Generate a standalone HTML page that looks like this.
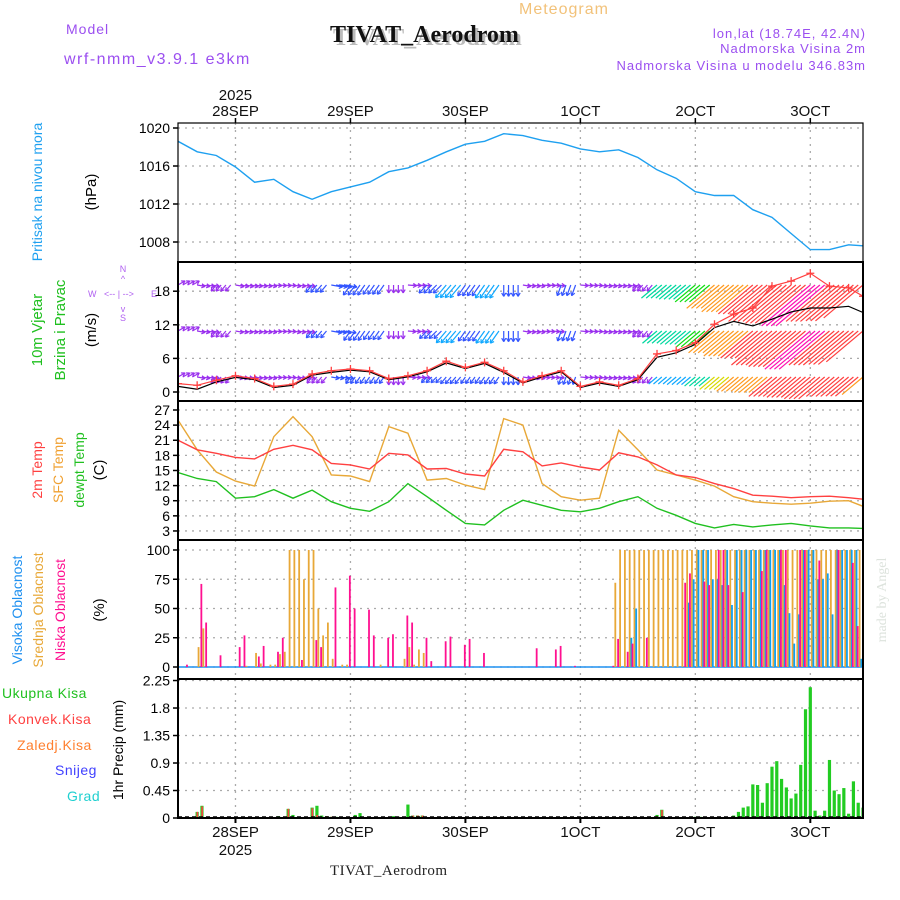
<!DOCTYPE html>
<html><head><meta charset="utf-8">
<style>
html,body{margin:0;padding:0;background:#fff;}
svg{display:block;font-family:"Liberation Sans",sans-serif;}
</style></head>
<body>
<svg id="chart" width="900" height="900" viewBox="0 0 900 900" xmlns="http://www.w3.org/2000/svg">
<defs>
<clipPath id="cpP"><rect x="178" y="123" width="685" height="139"/></clipPath>
<clipPath id="cpW"><rect x="178" y="262" width="685" height="139"/></clipPath>
<clipPath id="cpT"><rect x="178" y="401" width="685" height="139"/></clipPath>
<clipPath id="cpC"><rect x="178" y="540" width="685" height="139"/></clipPath>
<clipPath id="cpR"><rect x="178" y="679" width="685" height="139"/></clipPath>
</defs>
<rect width="900" height="900" fill="#fff"/>
<text x="519" y="14" font-size="16" fill="#f2c27a" letter-spacing="1">Meteogram</text>
<text x="66" y="34" font-size="14" fill="#9b4ff0" letter-spacing="1">Model</text>
<text x="64" y="64" font-size="16" fill="#9b4ff0" letter-spacing="1.5">wrf-nmm_v3.9.1 e3km</text>
<text x="333" y="45" font-family="Liberation Serif,serif" font-weight="bold" font-size="24" fill="#bbb">TIVAT_Aerodrom</text>
<text x="330" y="42" font-family="Liberation Serif,serif" font-weight="bold" font-size="24" fill="#111">TIVAT_Aerodrom</text>
<text x="866" y="38" font-size="13" fill="#9b4ff0" text-anchor="end" letter-spacing="1">lon,lat (18.74E, 42.4N)</text>
<text x="866" y="53" font-size="13" fill="#9b4ff0" text-anchor="end" letter-spacing="1">Nadmorska Visina 2m</text>
<text x="866" y="70" font-size="13" fill="#9b4ff0" text-anchor="end" letter-spacing="1">Nadmorska Visina u modelu 346.83m</text>
<text transform="translate(42,192) rotate(-90)" font-size="14" fill="#1ea0f0" text-anchor="middle">Pritisak na nivou mora</text>
<text transform="translate(96,192) rotate(-90)" font-size="15" fill="#000" text-anchor="middle">(hPa)</text>
<text transform="translate(42,330) rotate(-90)" font-size="15" fill="#20c020" text-anchor="middle">10m Vjetar</text>
<text transform="translate(65,330) rotate(-90)" font-size="15" fill="#20c020" text-anchor="middle">Brzina i Pravac</text>
<text transform="translate(96,330) rotate(-90)" font-size="15" fill="#000" text-anchor="middle">(m/s)</text>
<g fill="#b060f0" font-size="9">
<text x="123" y="272" text-anchor="middle">N</text>
<text x="123" y="282" text-anchor="middle">^</text>
<text x="88" y="297">W</text>
<text x="104" y="297">&lt;-- | --&gt;</text>
<text x="151" y="297">E</text>
<text x="123" y="312" text-anchor="middle">v</text>
<text x="123" y="321" text-anchor="middle">S</text>
</g>
<text transform="translate(42,470) rotate(-90)" font-size="14" fill="#ff4040" text-anchor="middle">2m Temp</text>
<text transform="translate(63,470) rotate(-90)" font-size="14" fill="#f0a030" text-anchor="middle">SFC Temp</text>
<text transform="translate(84,470) rotate(-90)" font-size="14" fill="#20c020" text-anchor="middle">dewpt Temp</text>
<text transform="translate(104,470) rotate(-90)" font-size="15" fill="#000" text-anchor="middle">(C)</text>
<text transform="translate(22,610) rotate(-90)" font-size="14" fill="#1e90f0" text-anchor="middle">Visoka Oblacnost</text>
<text transform="translate(43,610) rotate(-90)" font-size="14" fill="#e8a838" text-anchor="middle">Srednja Oblacnost</text>
<text transform="translate(65,610) rotate(-90)" font-size="14" fill="#ff1090" text-anchor="middle">Niska Oblacnost</text>
<text transform="translate(104,610) rotate(-90)" font-size="15" fill="#000" text-anchor="middle">(%)</text>
<g font-size="14" letter-spacing="0.5">
<text x="2" y="698" fill="#20c020">Ukupna Kisa</text>
<text x="8" y="724" fill="#ff4040">Konvek.Kisa</text>
<text x="17" y="750" fill="#ff8030">Zaledj.Kisa</text>
<text x="55" y="775" fill="#4040ff">Snijeg</text>
<text x="67" y="801" fill="#20d0d0">Grad</text>
</g>
<text transform="translate(123,750) rotate(-90)" font-size="14" fill="#000" text-anchor="middle">1hr Precip (mm)</text>
<text transform="translate(886,600) rotate(-90)" font-size="14" font-family="Liberation Serif,serif" fill="#dde3dd" text-anchor="middle">made by Angel</text>
<text x="330" y="875" font-family="Liberation Serif,serif" font-size="15" fill="#222" letter-spacing="0.5">TIVAT_Aerodrom</text>
<g id="plot"></g>
</svg>
<script>
const hrs   = [0,4,8,12,16,20,24,28,32,36,40,44,48,52,56,60,64,68,72,76,80,84,88,92,96,100,104,108,112,116,120,124,128,132,136,140,143];
const pressure = [1018.6,1017.5,1017.1,1015.9,1014.3,1014.6,1013.3,1012.5,1013.3,1013.8,1014.3,1015.4,1015.8,1016.6,1017.5,1018.3,1018.6,1019.4,1019.2,1018.7,1018.4,1017.8,1017.5,1017.7,1016.9,1015.6,1014.7,1013.3,1012.9,1012.9,1011.4,1010.6,1008.9,1007.2,1007.2,1007.7,1007.6];
const windSpeed = [1.5,1.2,2.1,2.9,2.4,1.0,1.4,3.2,3.8,4.1,3.8,2.4,2.9,3.8,5.5,4.4,5.3,3.8,1.8,2.9,3.8,1.0,1.8,1.2,2.4,6.8,7.4,8.8,12.1,13.9,15.0,18.9,19.8,21.2,18.9,18.6,17.1];
const windMean = [1.0,0.5,1.8,2.6,2.2,0.8,1.2,3.0,3.5,3.9,3.6,2.2,2.7,3.6,5.2,4.2,5.1,3.5,1.6,2.7,3.6,0.8,1.6,1.0,2.2,6.2,7.0,8.5,11.5,12.6,11.8,13.0,14.3,15.0,15.0,15.3,14.2];
const windDir = [60,100,220,100,100,95,100,220,100,215,215,180,95,225,220,215,215,180,100,95,200,95,100,100,220,230,230,230,230,230,230,230,230,230,230,230,230];
const temp2m = [21.0,19.1,18.4,17.6,17.3,19.2,20.0,19.1,16.4,16.1,15.3,18.4,18.1,15.3,15.4,14.3,13.9,19.2,18.7,15.9,16.5,15.7,15.1,18.5,17.7,16.1,14.1,13.6,12.4,11.4,10.1,9.9,9.6,9.8,9.9,9.6,9.3];
const tempSfc = [25.0,19.1,14.7,12.9,11.9,21.7,25.7,21.7,14.1,13.9,12.8,23.7,22.4,13.1,13.4,12.1,11.2,25.3,24.0,12.4,9.8,9.1,9.5,23.0,19.1,15.1,14.1,13.1,11.9,9.8,8.8,8.5,8.3,8.5,8.9,9.0,7.9];
const dewpt = [14.6,13.4,12.8,9.5,9.8,11.2,9.5,11.1,8.8,7.5,6.9,8.8,12.4,9.8,7.1,4.5,4.2,7.1,9.1,8.1,7.1,6.8,7.5,8.8,9.8,7.5,6.1,4.5,3.6,4.3,3.8,4.2,4.5,4.0,3.6,3.6,3.5];
const lowH = [2,5,6,9,13,14,17,18,21,22,26,29,30,33,36,37,40,41,44,45,48,49,52,53,56,57,60,61,64,75,79,80,83,91,92,94,95,98,106,107,110,111,113,114,115,118,122,123,126,127,130,131,134,138,141,142];
const lowV = [2,71,38,10,17,27,9,18,13,25,6,23,17,68,78,50,49,27,25,28,44,38,25,5,22,26,19,24,12,16,15,18,1,1,24,13,20,25,72,80,73,70,100,100,70,64,82,100,100,100,100,100,91,100,89,35];
const midH = [4,5,14,16,17,19,20,21,22,23,24,25,26,27,28,29,30,31,32,34,35,42,47,48,49,50,51,91,92,93,94,95,96,97,98,99,100,101,102,103,104,105,106,107,108,109,110,111,112,113,114,115,116,117,118,119,120,121,122,123,124,125,126,127,128,129,130,131,132,133,134,135,136,137,138,139,140,141,142];
const midV = [17,33,1,12,3,2,2,11,13,100,100,100,75,100,100,50,27,38,7,2,2,2,7,17,2,15,12,72,100,100,100,100,100,100,100,100,100,100,100,100,100,100,100,100,100,100,100,100,100,100,100,100,100,100,100,100,100,100,100,100,100,100,100,100,100,100,100,100,100,100,100,100,100,100,100,100,100,100,100];
const highH = [94,95,106,107,108,109,110,111,112,113,114,115,116,117,118,119,120,121,122,123,124,125,126,127,128,129,130,131,132,133,134,135,136,137,138,139,140,141,142];
const highV = [25,50,55,75,100,100,100,75,75,70,100,53,100,100,100,100,100,100,100,100,100,100,70,46,20,45,100,100,100,75,75,80,45,100,100,100,100,100,7];
const rainH = [4,5,21,23,24,28,29,30,31,32,33,37,38,45,46,48,49,50,51,75,100,101,108,109,116,117,118,119,120,121,122,123,124,125,126,127,128,129,130,131,132,133,134,135,136,137,138,139,140,141,142,143,144];
const rainV = [0.1,0.2,0.03,0.15,0.05,0.17,0.2,0.04,0.03,0.02,0.02,0.05,0.08,0.03,0.02,0.22,0.04,0.04,0.04,0.02,0.05,0.135,0.02,0.02,0.04,0.1,0.17,0.19,0.55,0.54,0.25,0.57,0.84,0.93,0.64,0.5,0.32,0.4,0.87,1.78,2.14,0.12,0.04,0.12,0.95,0.45,0.39,0.49,0.07,0.6,0.25,0.17,1.4];
const convH = [4,5,21,23,28,29,31,32,46,49,50,51,75,100,101];
const convV = [0.1,0.19,0.02,0.15,0.16,0.05,0.03,0.02,0.02,0.04,0.04,0.04,0.02,0.03,0.13];
const dayLabels = ["28SEP","29SEP","30SEP","1OCT","2OCT","3OCT"];
const dayHours = [12,36,60,84,108,132];
const pTicks = [1008,1012,1016,1020];
const wTicks = [0,6,12,18];
const tTicks = [3,6,9,12,15,18,21,24,27];
const cTicks = [0,25,50,75,100];
const rTicks = [0,0.45,0.9,1.35,1.8,2.25];

const X0=178, X1=863, HMAX=143;
const xS = h => X0 + h*(X1-X0)/HMAX;
const yP = v => 128 + (1020-v)*9.5;
const yW = v => 392 - v*5.6;
const yT = v => 410 + (27-v)*5.04;
const yC = v => 667 - v*1.17;
const yR = v => 818 - v*61.1;

const NS="http://www.w3.org/2000/svg";
const plot=document.getElementById('plot');
function mk(tag, attrs, parent){const e=document.createElementNS(NS,tag);for(const k in attrs)e.setAttribute(k,attrs[k]);(parent||plot).appendChild(e);return e;}

const panels=[
 {top:123,bot:262,ticks:pTicks,y:yP,clip:'cpP',name:'pressure'},
 {top:262,bot:401,ticks:wTicks,y:yW,clip:'cpW',name:'wind'},
 {top:401,bot:540,ticks:tTicks,y:yT,clip:'cpT',name:'temperature'},
 {top:540,bot:679,ticks:cTicks,y:yC,clip:'cpC',name:'cloud'},
 {top:679,bot:818,ticks:rTicks,y:yR,clip:'cpR',name:'precip'}
];
panels.forEach(p=>{
  const g=mk('g',{});
  
  
  dayHours.forEach(h=>{
    mk('line',{x1:xS(h),x2:xS(h),y1:p.top,y2:p.bot,stroke:'#aaa','stroke-width':1.3,'stroke-dasharray':'2,5'},g);
  });
  p.ticks.forEach(t=>{
    const y=p.y(t);
    mk('line',{x1:X0,x2:X1,y1:y,y2:y,stroke:'#aaa','stroke-width':1.3,'stroke-dasharray':'2,5'},g);
    mk('line',{x1:X0-5,x2:X0,y1:y,y2:y,stroke:'#000','stroke-width':1.5},g);
    const tx=mk('text',{x:X0-8,y:y+5,'font-size':14,'text-anchor':'end',fill:'#000'},g);
    
    
    tx.textContent=String(t);
  });
});

function line(arrX, arrY, yf, color, clip, name, w){
  let d='';
  arrX.forEach((h,i)=>{d+=(i?'L':'M')+xS(h).toFixed(1)+','+yf(arrY[i]).toFixed(1);});
  const e=mk('path',{d:d,fill:'none',stroke:color,'stroke-width':w||1.3,'clip-path':'url(#'+clip+')'});
  
  
  return e;
}
line(hrs,pressure,yP,'#1ea0f0','cpP','pressure-line',1.4);

function spdColor(s){
  if(s<3)return '#9a30ee'; if(s<5)return '#3355ff'; if(s<6.5)return '#10a8ff';
  if(s<7.5)return '#00d8a0'; if(s<9)return '#10dd10'; if(s<11)return '#d8d800';
  if(s<14)return '#ff9a20'; if(s<20)return '#ff4040'; return '#ff10b0';
}
const rows=[285,331,377];
const rowScale=[3,2.8,1.6];
const wg=mk('g',{'clip-path':'url(#cpW)'});


rows.forEach((ry,r)=>{
  for(let h=0; h<=HMAX; h++){
    // step display: each hourly arrow uses the most recent reading
    let i=0; while(i+1<hrs.length && hrs[i+1]<=h) i++;
    const s=windSpeed[i], a=windDir[i]*Math.PI/180, L=Math.max(8,rowScale[r]*s);
    const x=xS(h), dx=Math.sin(a)*L, dy=-Math.cos(a)*L;
    const c=spdColor(r==2 ? s*0.8 : s);
    const ex=x+dx, ey=ry+dy;
    const ar=mk('line',{x1:x,y1:ry,x2:ex,y2:ey,stroke:c,'stroke-width':1.2},wg);
    
    
    if(s<6){
      const ang=Math.atan2(dy,dx);
      [2.6,-2.6].forEach(o=>{
        mk('line',{x1:ex,y1:ey,x2:ex+4*Math.cos(ang+o),y2:ey+4*Math.sin(ang+o),stroke:c,'stroke-width':1.2},wg);
      });
    }
  }
});
line(hrs,windMean,yW,'#000','cpW','wind-mean-line',1.2);
line(hrs,windSpeed,yW,'#ff4040','cpW','wind-speed-line',1.2);
const mg=mk('g',{'clip-path':'url(#cpW)'});


hrs.forEach((h,i)=>{
  const x=xS(h), y=yW(windSpeed[i]);
  mk('path',{d:`M${x-4},${y}H${x+4}M${x},${y-4}V${y+4}`,stroke:'#ff4040','stroke-width':1.3,fill:'none'},mg);
});

line(hrs,tempSfc,yT,'#e8a838','cpT','sfc-temp-line',1.4);
line(hrs,temp2m,yT,'#ff4040','cpT','temp-2m-line',1.4);
line(hrs,dewpt,yT,'#20c020','cpT','dewpoint-line',1.4);

const cg=mk('g',{'clip-path':'url(#cpC)'});


mk('line',{x1:X0,x2:X1,y1:yC(0),y2:yC(0),stroke:'#1e90f0','stroke-width':1.5},cg);
function cbars(H,V,color,off,name){
  H.forEach((h,i)=>{
    const y=yC(V[i]);
    const b=mk('rect',{x:xS(h)+off,y:y,width:1.8,height:yC(0)-y,fill:color},cg);
    
    
  });
}
cbars(midH,midV,'#e8a838',0.5,'mid-cloud-bar');
cbars(highH,highV,'#10a0f0',2.2,'high-cloud-bar');
cbars(lowH,lowV,'#ff1090',-1.5,'low-cloud-bar');

const rg=mk('g',{'clip-path':'url(#cpR)'});


rainH.forEach((h,i)=>{
  const y=yR(rainV[i]);
  const b=mk('rect',{x:xS(h)-1.6,y:y,width:3.2,height:yR(0)-y,fill:'#22cc22'},rg);
  
  
});
convH.forEach((h,i)=>{
  const y=yR(convV[i]);
  const b=mk('rect',{x:xS(h)-0.6,y:y,width:1.6,height:yR(0)-y,fill:'#ff4040'},rg);
  
  
});
mk('line',{x1:X0,x2:X1,y1:817,y2:817,stroke:'#000','stroke-width':1.5,'stroke-dasharray':'4,3'},rg);

panels.forEach((p,i)=>{
  const r=mk('rect',{x:X0,y:p.top,width:X1-X0,height:p.bot-p.top,fill:'none',stroke:'#000','stroke-width':i==0?1.2:2});
  
  
});

dayHours.forEach((h,i)=>{
  const x=xS(h);
  mk('line',{x1:x,x2:x,y1:118,y2:123,stroke:'#000','stroke-width':1.5});
  mk('line',{x1:x,x2:x,y1:818,y2:823,stroke:'#000','stroke-width':2});
  const t=mk('text',{x:x,y:116,'font-size':15,'text-anchor':'middle',fill:'#111'});
  
  
  t.textContent=dayLabels[i];
  const b=mk('text',{x:x,y:837,'font-size':15,'text-anchor':'middle',fill:'#111'});
  
  
  b.textContent=dayLabels[i];
});
const y1=mk('text',{x:xS(12),y:100,'font-size':15,'text-anchor':'middle',fill:'#111'});


y1.textContent='2025';
const y2=mk('text',{x:xS(12),y:855,'font-size':15,'text-anchor':'middle',fill:'#111'});


y2.textContent='2025';
</script>
</body></html>
